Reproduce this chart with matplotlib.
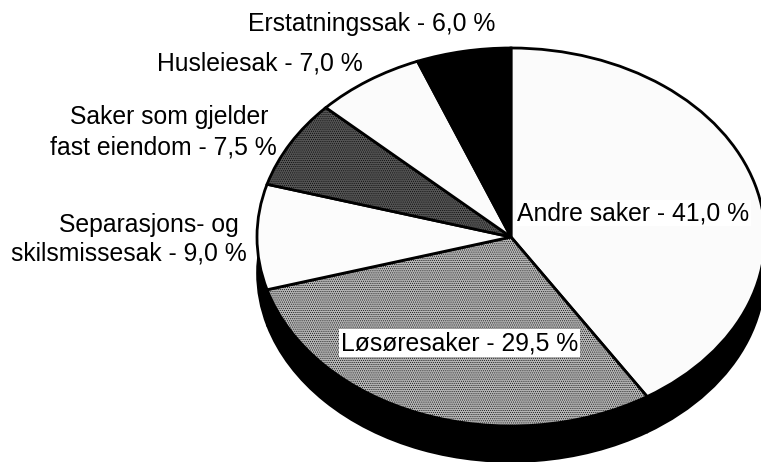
import matplotlib
matplotlib.use("Agg")
import matplotlib.pyplot as plt

categories = ["Andre saker", "Løsøresaker", "Separasjons- og skilsmissesak",
              "Saker som gjelder fast eiendom", "Husleiesak", "Erstatningssak"]
values = [41.0, 29.5, 9.0, 7.5, 7.0, 6.0]
label_lines = [["Andre saker - 41,0 %"], ["Løsøresaker - 29,5 %"],
               ["Separasjons- og", "skilsmissesak - 9,0 %"],
               ["Saker som gjelder", "fast eiendom - 7,5 %"],
               ["Husleiesak - 7,0 %"], ["Erstatningssak - 6,0 %"]]
fills = ["#fbfbfb", "#b4b4b4", "#fcfcfc", "#555555", "#fbfbfb", "#000000"]

W, H = 761, 462
plt.rcParams["font.family"] = ["Liberation Sans", "DejaVu Sans"]
plt.rcParams["hatch.linewidth"] = 0.4
fig = plt.figure(figsize=(W / 100, H / 100), dpi=100)

cx, cy, rx, ry, depth = 511, 237, 254, 189, 36
ax = fig.add_axes([(cx - rx) / W, 1 - (cy + ry) / H, 2 * rx / W, 2 * ry / H])

# extruded side of the pie
ax.pie(values, colors=["black"] * len(values), startangle=90, counterclock=False,
       center=(0, -depth / ry), radius=1,
       wedgeprops=dict(edgecolor="black", linewidth=1.2, clip_on=False))
wedges, _ = ax.pie(values, colors=fills, startangle=90, counterclock=False,
                   center=(0, 0), radius=1,
                   wedgeprops=dict(edgecolor="black", linewidth=2.0, clip_on=False))
ax.set_aspect("auto")
ax.set_xlim(-1, 1)
ax.set_ylim(-1, 1)
wedges[1].set_hatch("........")
wedges[3].set_hatch("........")

def lab(text, x, y, ha="left", **kw):
    fig.text(x / W, 1 - y / H, text, ha=ha, va="center", fontsize=17.8, color="black", **kw)

lab(label_lines[0][0], 517, 213, bbox=dict(facecolor="white", edgecolor="none", pad=1))
lab(label_lines[1][0], 341, 343, bbox=dict(facecolor="white", edgecolor="none", pad=1.5))
lab(label_lines[2][0], 239, 225, ha="right")
lab(label_lines[2][1], 247, 254, ha="right")
lab(label_lines[3][0], 268, 117, ha="right")
lab(label_lines[3][1], 277, 147, ha="right")
lab(label_lines[4][0], 157, 63)
lab(label_lines[5][0], 248, 24)

fig.savefig("out.png", dpi=100)
